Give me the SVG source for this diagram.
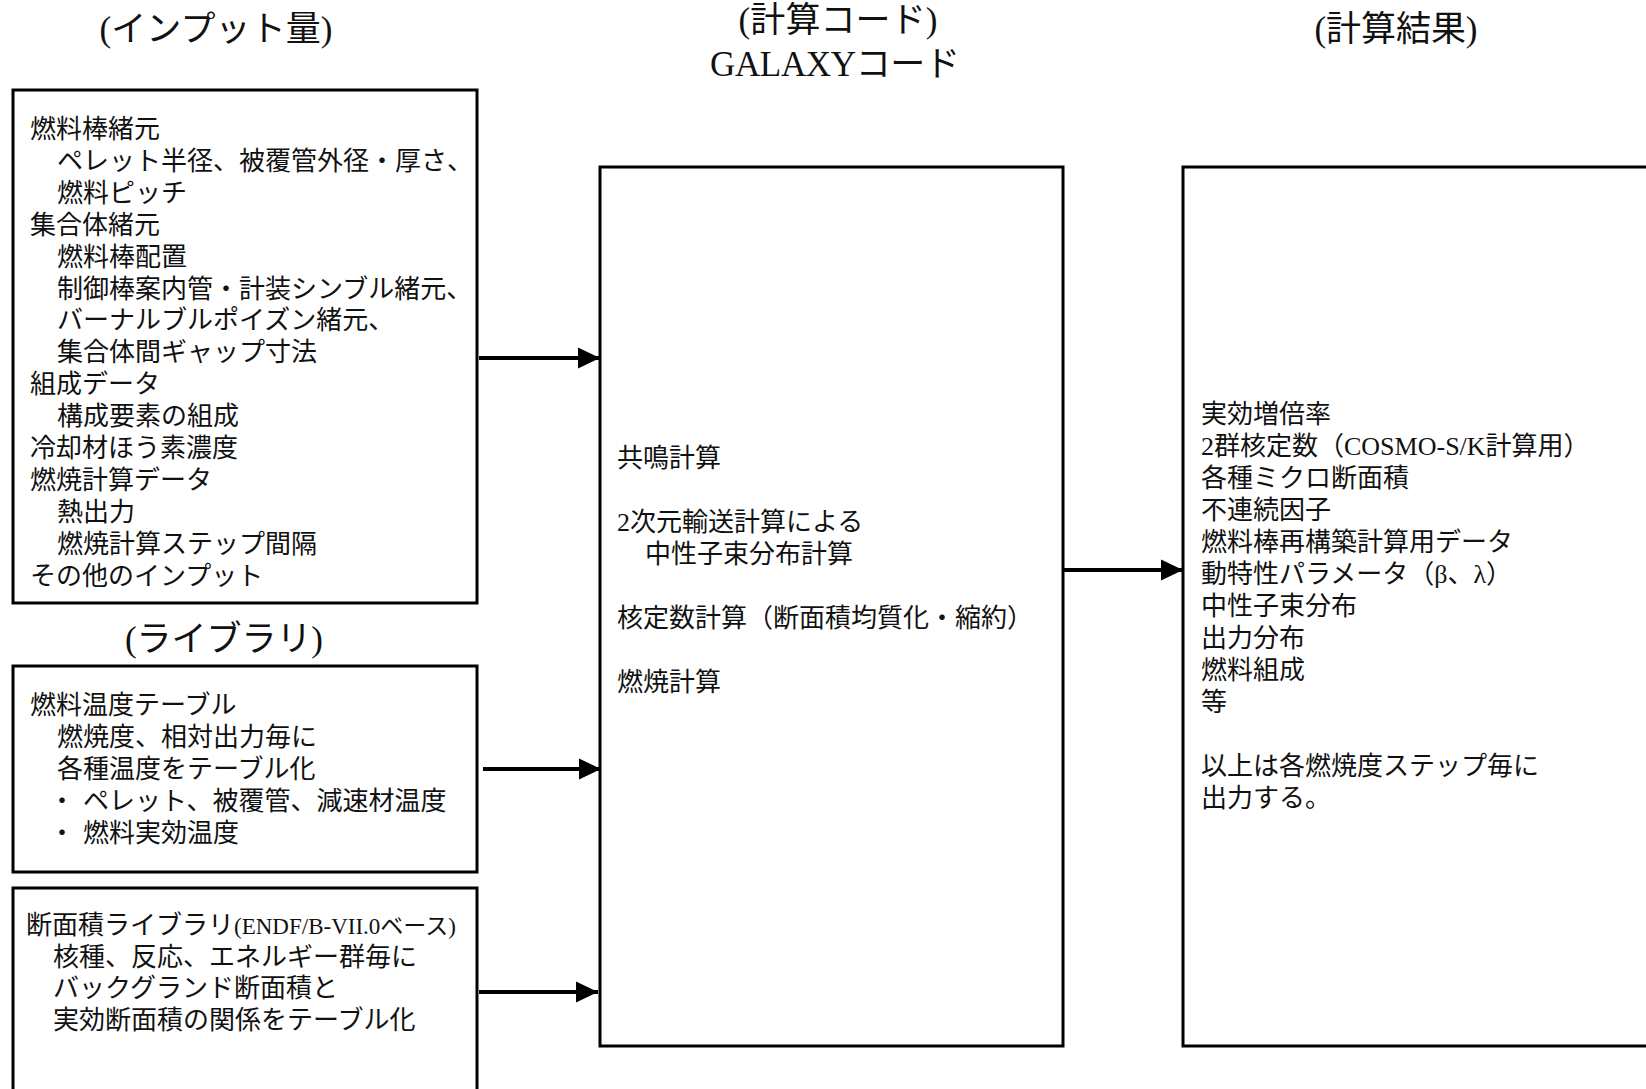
<svg xmlns="http://www.w3.org/2000/svg" width="1646" height="1089" viewBox="0 0 1646 1089">
<style>
text{font-family:'Liberation Serif','Noto Sans CJK JP',serif;fill:#111}
.t{font-size:35px;text-anchor:middle}
.b{font-size:26px}
.s{font-size:23px}
.box{fill:#fff;stroke:#000;stroke-width:3}
.con{stroke:#000;stroke-width:4;fill:none}
</style>
<defs>
<marker id="ah" markerUnits="userSpaceOnUse" markerWidth="22" markerHeight="22" refX="22" refY="11" orient="auto" viewBox="0 0 22 22">
<path d="M0,0.5 L22,11 L0,21.5 z" fill="#000"/>
</marker>
</defs>
<rect width="1646" height="1089" fill="#fff"/>
<g id="titles">
<text class="t" x="216" y="41" textLength="233" lengthAdjust="spacing">(インプット量)</text>
<text class="t" x="838" y="32" textLength="199" lengthAdjust="spacing">(計算コード)</text>
<text class="t" x="835" y="76" textLength="250" lengthAdjust="spacing">GALAXYコード</text>
<text class="t" x="1396" y="41" textLength="163" lengthAdjust="spacing">(計算結果)</text>
<text class="t" x="224" y="651" textLength="198" lengthAdjust="spacing">(ライブラリ)</text>
</g>
<g id="input">
<rect class="box" x="13" y="90" width="464" height="513"/>
<text class="b" x="30" y="138">燃料棒緒元</text>
<text class="b" x="57" y="170">ペレット半径、被覆管外径・厚さ、</text>
<text class="b" x="57" y="202">燃料ピッチ</text>
<text class="b" x="30" y="234">集合体緒元</text>
<text class="b" x="57" y="266">燃料棒配置</text>
<text class="b" x="57" y="298">制御棒案内管・計装シンブル緒元、</text>
<text class="b" x="57" y="329">バーナルブルポイズン緒元、</text>
<text class="b" x="57" y="361">集合体間ギャップ寸法</text>
<text class="b" x="30" y="393">組成データ</text>
<text class="b" x="57" y="425">構成要素の組成</text>
<text class="b" x="30" y="457">冷却材ほう素濃度</text>
<text class="b" x="30" y="489">燃焼計算データ</text>
<text class="b" x="57" y="521">熱出力</text>
<text class="b" x="57" y="553">燃焼計算ステップ間隔</text>
<text class="b" x="30" y="585">その他のインプット</text>
</g>
<g id="fueltemp">
<rect class="box" x="13" y="666" width="464" height="206"/>
<text class="b" x="30" y="714">燃料温度テーブル</text>
<text class="b" x="57" y="746">燃焼度、相対出力毎に</text>
<text class="b" x="57" y="778">各種温度をテーブル化</text>
<text class="b" x="49" y="810">・<tspan x="83">ペレット、被覆管、減速材温度</tspan></text>
<text class="b" x="49" y="842">・<tspan x="83">燃料実効温度</tspan></text>
</g>
<g id="xslib">
<rect class="box" x="13" y="888" width="464" height="220"/>
<text x="26" y="934"><tspan class="b">断面積ライブラリ</tspan><tspan class="s">(ENDF/B-VII.0ベース)</tspan></text>
<text class="b" x="53" y="966">核種、反応、エネルギー群毎に</text>
<text class="b" x="53" y="997">バックグランド断面積と</text>
<text class="b" x="53" y="1029">実効断面積の関係をテーブル化</text>
</g>
<g id="galaxy">
<rect class="box" x="600" y="167" width="463" height="879"/>
<text class="b" x="617" y="467">共鳴計算</text>
<text class="b" x="617" y="531">2次元輸送計算による</text>
<text class="b" x="645" y="563">中性子束分布計算</text>
<text class="b" x="617" y="627">核定数計算（断面積均質化・縮約）</text>
<text class="b" x="617" y="691">燃焼計算</text>
</g>
<g id="results">
<rect class="box" x="1183" y="167" width="480" height="879"/>
<text class="b" x="1201" y="423">実効増倍率</text>
<text class="b" x="1201" y="455">2群核定数（COSMO-S/K計算用）</text>
<text class="b" x="1201" y="487">各種ミクロ断面積</text>
<text class="b" x="1201" y="519">不連続因子</text>
<text class="b" x="1201" y="551">燃料棒再構築計算用データ</text>
<text class="b" x="1201" y="583">動特性パラメータ（β、λ）</text>
<text class="b" x="1201" y="615">中性子束分布</text>
<text class="b" x="1201" y="647">出力分布</text>
<text class="b" x="1201" y="679">燃料組成</text>
<text class="b" x="1201" y="711">等</text>
<text class="b" x="1201" y="775">以上は各燃焼度ステップ毎に</text>
<text class="b" x="1201" y="807">出力する。</text>
</g>
<g id="connectors">
<line class="con" x1="479" y1="358" x2="600" y2="358" marker-end="url(#ah)"/>
<line class="con" x1="483" y1="769" x2="601" y2="769" marker-end="url(#ah)"/>
<line class="con" x1="479" y1="992" x2="598" y2="992" marker-end="url(#ah)"/>
<line class="con" x1="1064" y1="570" x2="1183" y2="570" marker-end="url(#ah)"/>
</g>
</svg>
